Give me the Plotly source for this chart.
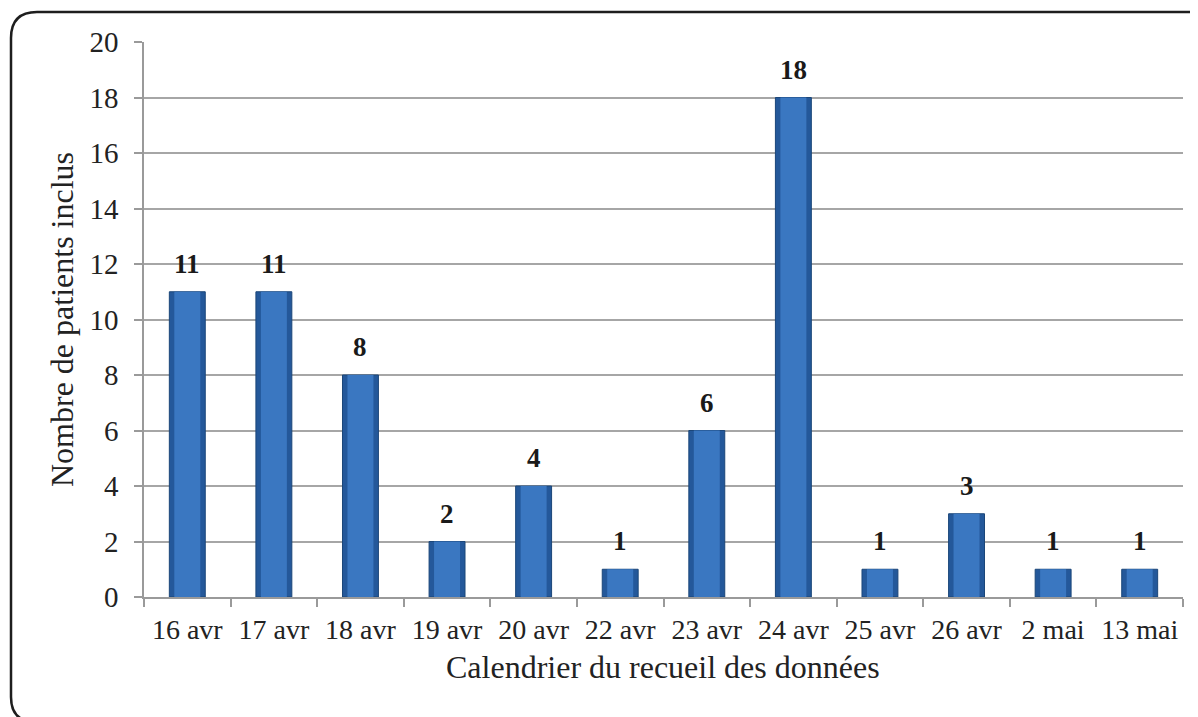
import plotly.graph_objects as go

categories = ["16 avr", "17 avr", "18 avr", "19 avr", "20 avr", "22 avr",
              "23 avr", "24 avr", "25 avr", "26 avr", "2 mai", "13 mai"]
patients = [11, 11, 8, 2, 4, 1, 6, 18, 1, 3, 1, 1]
y_ticks = [0, 2, 4, 6, 8, 10, 12, 14, 16, 18, 20]

# page body has an 8px margin: figure drawn in a 1190x709 box offset by 8px
OFF = 8
W, H = 1198 - OFF, 717 - OFF
L, T = 144 - OFF, 42 - OFF
R = W - (1183 - OFF)
B = H - (597 - OFF)
PW, PH = W - L - R, H - T - B


def px(x):
    return (x - OFF - L) / PW


def py(y):
    return (H - B - (y - OFF)) / PH


fig = go.Figure()
fig.add_trace(go.Bar(
    x=categories, y=patients, width=0.415,
    marker=dict(color="#24589a", line=dict(color="#1b4679", width=1)),
    hoverinfo="x+y", showlegend=False,
))
fig.add_trace(go.Bar(
    x=categories, y=patients, width=0.30,
    marker=dict(color="#3a77c1", line=dict(width=0)),
    hoverinfo="skip", showlegend=False,
))

for c, v in zip(categories, patients):
    fig.add_annotation(x=c, y=v, text=f"<b>{v}</b>", showarrow=False,
                       yanchor="bottom", yshift=11,
                       font=dict(family="Liberation Serif", size=27, color="#1a1a1a"))

# x-axis title
fig.add_annotation(x=px(663), y=py(667), xref="paper", yref="paper",
                   text="Calendrier du recueil des données", showarrow=False,
                   xanchor="center", yanchor="middle",
                   font=dict(family="Liberation Serif", size=32, color="#222222"))

# rounded frame (screen pixel coordinates converted to paper)
pts = dict(
    a=(1215, 722), b=(36, 722), c=(11, 722), d=(11, 697), e=(11, 38),
    f=(11, 12), g=(37, 12), h=(1188, 12), i=(1213, 12), j=(1213, 37),
)
P = {k: (px(x), py(y)) for k, (x, y) in pts.items()}
path = (f"M {P['a'][0]},{P['a'][1]} L {P['b'][0]},{P['b'][1]} "
        f"Q {P['c'][0]},{P['c'][1]} {P['d'][0]},{P['d'][1]} "
        f"L {P['e'][0]},{P['e'][1]} "
        f"Q {P['f'][0]},{P['f'][1]} {P['g'][0]},{P['g'][1]} "
        f"L {P['h'][0]},{P['h'][1]} "
        f"Q {P['i'][0]},{P['i'][1]} {P['j'][0]},{P['j'][1]}")
fig.add_shape(type="path", path=path, xref="paper", yref="paper",
              line=dict(color="#1e1e1e", width=2.5), layer="above")

fig.update_layout(
    width=W, height=H, barmode="overlay",
    margin=dict(l=L, r=R, t=T, b=B, autoexpand=False),
    paper_bgcolor="white", plot_bgcolor="white",
    font=dict(family="Liberation Serif", color="#222222"),
    xaxis=dict(
        type="category", tickson="boundaries", ticks="outside", ticklen=8,
        tickcolor="#9a9a9a", tickwidth=1.5, showline=True, linecolor="#9a9a9a",
        linewidth=1.5, showgrid=False, tickfont=dict(size=28), tickangle=0,
        ticklabelstandoff=7, automargin=False,
    ),
    yaxis=dict(
        range=[0, 20], tickvals=y_ticks, ticks="outside", ticklen=8,
        tickcolor="#9a9a9a", tickwidth=1.5, showline=True, linecolor="#9a9a9a",
        linewidth=1.5, showgrid=True, gridcolor="#a6a6a6", gridwidth=1.5,
        tickfont=dict(size=29), ticklabelstandoff=10, zeroline=False,
        automargin=False,
        title=dict(text="Nombre de patients inclus", font=dict(size=32),
                   standoff=6),
    ),
)

fig.write_html("out.html")
